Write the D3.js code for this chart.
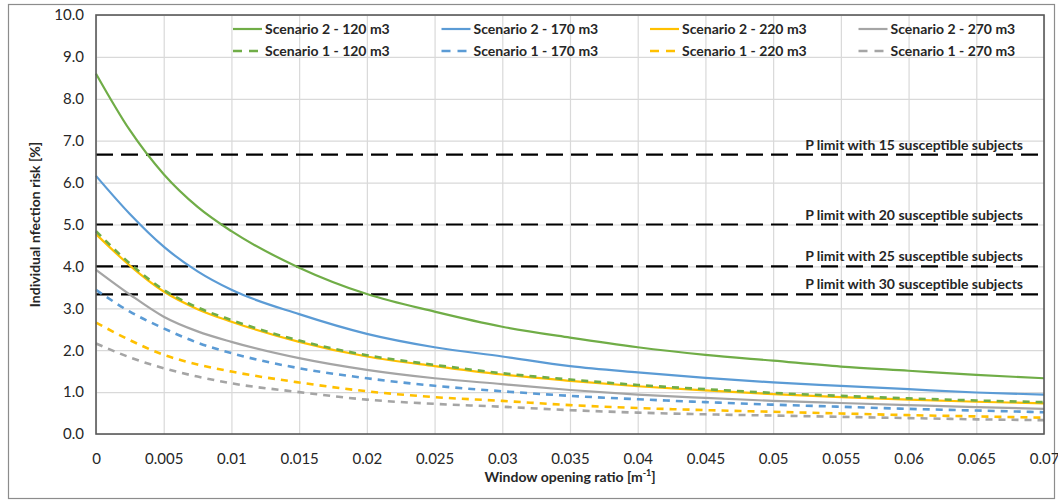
<!DOCTYPE html>
<html>
<head>
<meta charset="utf-8">
<script src="https://cdn.jsdelivr.net/npm/d3@7"></script>
<style>
  body { margin: 0; background: #fff; }
  svg text { font-family: Lato, "Open Sans", sans-serif; fill: #262626; }
</style>
</head>
<body>
<svg id="chart" width="1058" height="502"></svg>
<script>
// window opening ratio [1/m]
const xValues = [0, 0.0025, 0.005, 0.0075, 0.01, 0.015, 0.02, 0.025, 0.03, 0.035, 0.04, 0.045, 0.05, 0.055, 0.06, 0.065, 0.07];

// individual infection risk [%]
const s2_120 = [8.60, 7.25, 6.20, 5.42, 4.84, 3.97, 3.34, 2.92, 2.56, 2.30, 2.07, 1.89, 1.75, 1.61, 1.51, 1.41, 1.33];
const s2_170 = [6.16, 5.25, 4.47, 3.88, 3.44, 2.86, 2.39, 2.07, 1.85, 1.62, 1.47, 1.34, 1.23, 1.15, 1.07, 0.99, 0.94];
const s2_220 = [4.77, 4.02, 3.40, 2.98, 2.68, 2.20, 1.85, 1.62, 1.42, 1.27, 1.14, 1.04, 0.95, 0.88, 0.82, 0.77, 0.73];
const s2_270 = [3.92, 3.33, 2.80, 2.45, 2.20, 1.81, 1.53, 1.33, 1.19, 1.05, 0.94, 0.86, 0.79, 0.74, 0.69, 0.64, 0.60];
const s1_120 = [4.84, 4.07, 3.44, 3.02, 2.72, 2.23, 1.88, 1.65, 1.45, 1.30, 1.17, 1.07, 0.98, 0.91, 0.85, 0.80, 0.76];
const s1_170 = [3.44, 2.92, 2.52, 2.18, 1.93, 1.57, 1.33, 1.15, 1.02, 0.91, 0.83, 0.76, 0.70, 0.65, 0.60, 0.56, 0.52];
const s1_220 = [2.66, 2.24, 1.89, 1.66, 1.49, 1.23, 1.02, 0.88, 0.79, 0.69, 0.62, 0.57, 0.53, 0.49, 0.45, 0.42, 0.39];
const s1_270 = [2.16, 1.83, 1.57, 1.37, 1.21, 1.00, 0.82, 0.72, 0.65, 0.57, 0.51, 0.47, 0.44, 0.41, 0.38, 0.35, 0.33];

const seriesNames = [
  'Scenario 2 - 120 m3', 'Scenario 2 - 170 m3', 'Scenario 2 - 220 m3', 'Scenario 2 - 270 m3',
  'Scenario 1 - 120 m3', 'Scenario 1 - 170 m3', 'Scenario 1 - 220 m3', 'Scenario 1 - 270 m3'
];
const seriesValues = [s2_120, s2_170, s2_220, s2_270, s1_120, s1_170, s1_220, s1_270];
const seriesColors = ['#70ad47', '#5b9bd5', '#ffc000', '#a5a5a5', '#70ad47', '#5b9bd5', '#ffc000', '#a5a5a5'];
const seriesDashed = [false, false, false, false, true, true, true, true];

// P limit = 100 / susceptible subjects
const limitSubjects = [15, 20, 25, 30];
const limitValues = [6.67, 5.0, 4.0, 3.33];

const xTicks = [0, 0.005, 0.01, 0.015, 0.02, 0.025, 0.03, 0.035, 0.04, 0.045, 0.05, 0.055, 0.06, 0.065, 0.07];
const yTicks = [0, 1, 2, 3, 4, 5, 6, 7, 8, 9, 10];

const margin = { top: 15, right: 14, bottom: 68, left: 96 };
const W = 1058, H = 502;
const width = W - margin.left - margin.right;
const height = H - margin.top - margin.bottom;

const svg = d3.select('#chart');

// outer frame
svg.append('rect')
  .attr('x', 8.5).attr('y', 4.5)
  .attr('width', W - 12).attr('height', H - 8)
  .attr('fill', 'none').attr('stroke', '#8c8c8c').attr('stroke-width', 1.2);

const x = d3.scaleLinear().domain([0, 0.07]).range([0, width]);
const y = d3.scaleLinear().domain([0, 10]).range([height, 0]);

const plot = svg.append('g').attr('transform', `translate(${margin.left},${margin.top})`);

// grid
plot.append('g')
  .attr('transform', `translate(0,${height})`)
  .call(d3.axisBottom(x).tickValues(xTicks).tickSize(-height).tickFormat(''))
  .call(g => g.select('.domain').remove())
  .call(g => g.selectAll('line').attr('stroke', '#d9d9d9').attr('stroke-width', 1.2));

plot.append('g')
  .call(d3.axisLeft(y).tickValues(yTicks).tickSize(-width).tickFormat(''))
  .call(g => g.select('.domain').remove())
  .call(g => g.selectAll('line').attr('stroke', '#d9d9d9').attr('stroke-width', 1.2));

// tick labels
const xAxis = plot.append('g')
  .attr('transform', `translate(0,${height})`)
  .call(d3.axisBottom(x).tickValues(xTicks).tickSize(0).tickPadding(19)
    .tickFormat(d => String(+d.toFixed(3))));
xAxis.select('.domain').remove();
xAxis.selectAll('text').attr('font-size', 15).attr('font-family', 'Lato, sans-serif').attr('fill', '#333');

const yAxis = plot.append('g')
  .call(d3.axisLeft(y).tickValues(yTicks).tickSize(0).tickPadding(12).tickFormat(d3.format('.1f')));
yAxis.select('.domain').remove();
yAxis.selectAll('text').attr('font-size', 15).attr('font-family', 'Lato, sans-serif').attr('fill', '#333');

// limit lines
limitValues.forEach((v, i) => {
  plot.append('line')
    .attr('x1', 0).attr('x2', width)
    .attr('y1', y(v)).attr('y2', y(v))
    .attr('stroke', '#000').attr('stroke-width', 2.2)
    .attr('stroke-dasharray', '17 8');
  plot.append('text')
    .attr('x', width - 21).attr('y', y(v) - 5)
    .attr('text-anchor', 'end')
    .attr('font-size', 14).attr('font-weight', 'bold')
    .text(`P limit with ${limitSubjects[i]} susceptible subjects`);
});

// curves
const line = d3.line()
  .x((d, i) => x(xValues[i]))
  .y(d => y(d))
  .curve(d3.curveMonotoneX);

seriesValues.forEach((vals, i) => {
  plot.append('path')
    .datum(vals)
    .attr('d', line)
    .attr('fill', 'none')
    .attr('stroke', seriesColors[i])
    .attr('stroke-width', seriesDashed[i] ? 2.6 : 2.2)
    .attr('stroke-dasharray', seriesDashed[i] ? '7 6' : null);
});

// plot border
plot.append('rect')
  .attr('width', width).attr('height', height)
  .attr('fill', 'none').attr('stroke', '#595959').attr('stroke-width', 1.6);

// legend
const legend = svg.append('g');
seriesNames.forEach((name, i) => {
  const col = i % 4, row = Math.floor(i / 4);
  const lx = 233 + col * 208.5, ly = 29 + row * 22;
  const item = legend.append('g').attr('transform', `translate(${lx},${ly})`);
  if (seriesDashed[i]) {
    item.append('line').attr('x1', 0).attr('x2', 25).attr('y1', 0).attr('y2', 0)
      .attr('stroke', seriesColors[i]).attr('stroke-width', 2.6).attr('stroke-dasharray', '9 7');
  } else {
    item.append('line').attr('x1', 0).attr('x2', 29).attr('y1', 0).attr('y2', 0)
      .attr('stroke', seriesColors[i]).attr('stroke-width', 2.2);
  }
  item.append('text').attr('x', 32).attr('y', 5)
    .attr('font-size', 14).attr('font-weight', 'bold')
    .text(name);
});

// axis titles
const xt = svg.append('text')
  .attr('x', margin.left + width / 2).attr('y', 482)
  .attr('text-anchor', 'middle')
  .attr('font-size', 14).attr('font-weight', 'bold');
xt.append('tspan').text('Window opening ratio [m');
xt.append('tspan').attr('font-size', 9).attr('dy', -6).text('-1');
xt.append('tspan').attr('dy', 6).text(']');

svg.append('text')
  .attr('transform', `translate(40,${margin.top + height / 2}) rotate(-90)`)
  .attr('text-anchor', 'middle')
  .attr('font-size', 14).attr('font-weight', 'bold')
  .text('Individual nfection risk [%]');
</script>
</body>
</html>
